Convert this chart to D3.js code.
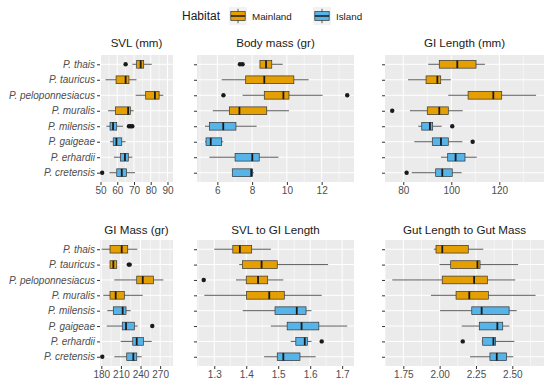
<!DOCTYPE html>
<html>
<head>
  <script src="https://cdn.jsdelivr.net/npm/d3@7/dist/d3.min.js"></script>
  <style>
    body { margin: 0; background: #fff; }
    text { font-family: "Liberation Sans", Arial, sans-serif; }
  </style>
</head>
<body>
<svg width="550" height="387"></svg>
<script>

const species = ['P. thais', 'P. tauricus', 'P. peloponnesiacus', 'P. muralis',
                 'P. milensis', 'P. gaigeae', 'P. erhardii', 'P. cretensis'];
const habitat = ['Mainland', 'Mainland', 'Mainland', 'Mainland',
                 'Island', 'Island', 'Island', 'Island'];

// [low whisker, q1, median, q3, high whisker] per species
const svl = [[69, 71.6, 74, 75.8, 80.6], [53, 59.3, 65, 67, 71.5], [71, 77, 82.5, 85, 87.5],
             [54.5, 59, 66.5, 67.8, 69.8], [53.5, 55.7, 57.5, 59.7, 63.5], [55.7, 57.6, 59.5, 62.7, 65],
             [58, 62, 64.6, 66.6, 69], [55.3, 59.7, 62.7, 65.6, 70.6]];
const svlOut = [[65], [], [], [], [67, 68, 69], [], [], [51]];

const bodyMass = [[8.45, 8.45, 8.8, 9.13, 9.76], [6.25, 7.63, 8.7, 10.4, 11.25], [7.45, 8.7, 9.8, 10.12, 12.05],
                  [5.74, 6.69, 7.27, 8.84, 10.12], [5.29, 5.54, 6.34, 7.07, 8.26], [5.29, 5.35, 5.62, 6.25, 6.34],
                  [5.54, 7.02, 8.01, 8.41, 9.51], [6.86, 6.86, 7.95, 8.03, 8.1]];
const bodyMassOut = [[7.3, 7.45], [], [6.35, 13.47], [], [], [], [], []];

const giLength = [[90.4, 95, 102.5, 110.3, 114], [82, 89.5, 94.2, 95.6, 99.8], [98.75, 107, 117.5, 121, 135.3],
                  [82.8, 90, 95, 98.75, 104.75], [86.25, 87.7, 91.1, 92.25, 96], [84.6, 92.1, 95.7, 98.75, 104.6],
                  [95.7, 98.5, 101.8, 105.7, 110.6], [83.5, 93.5, 96.25, 100.4, 104.3]];
const giLengthOut = [[], [], [], [75.4], [100.4], [108.9], [], [81.4]];

const giMass = [[180.6, 193.3, 211.2, 220.4, 235.1], [193.3, 193.3, 198.4, 203.6, 203.6], [199.9, 234.2, 243.4, 259.6, 274.9],
                [183, 193.3, 202, 215.2, 243.4], [189.2, 198.4, 212.7, 217.8, 225], [188.3, 212.1, 217.8, 230.5, 235.7],
                [209.7, 228.1, 234.2, 244.3, 257.1], [199.9, 218.9, 229, 234.2, 241.8]];
const giMassOut = [[], [222, 223.5], [], [], [], [258], [], [181.5]];

const svlToGi = [[1.30, 1.358, 1.38, 1.417, 1.477], [1.378, 1.388, 1.448, 1.497, 1.656], [1.368, 1.4, 1.437, 1.467, 1.516],
                 [1.269, 1.401, 1.472, 1.519, 1.636], [1.389, 1.49, 1.558, 1.587, 1.604], [1.477, 1.528, 1.573, 1.627, 1.716],
                 [1.539, 1.555, 1.583, 1.591, 1.604], [1.456, 1.497, 1.516, 1.568, 1.617]];
const svlToGiOut = [[], [], [1.267], [], [], [], [1.636], []];

const gutRatio = [[1.96, 1.975, 2.018, 2.197, 2.30], [2.0, 2.076, 2.26, 2.278, 2.54], [1.674, 2.018, 2.237, 2.328, 2.52],
                  [1.94, 2.113, 2.204, 2.335, 2.66], [2.003, 2.221, 2.289, 2.478, 2.53], [2.152, 2.273, 2.397, 2.434, 2.48],
                  [2.29, 2.296, 2.37, 2.385, 2.514], [2.209, 2.346, 2.393, 2.461, 2.507]];
const gutRatioOut = [[], [], [], [], [], [], [2.159], []];

const colors = {Mainland: '#E69F00', Island: '#56B4E9'};

let panels = [
  {title: 'SVL (mm)', data: svl, out: svlOut, domain: [49.7, 93.3], ticks: [50, 60, 70, 80, 90], fmt: d3.format('d'), col: 0, row: 0},
  {title: 'Body mass (gr)', data: bodyMass, out: bodyMassOut, domain: [4.83, 13.86], ticks: [6, 8, 10, 12], fmt: d3.format('d'), col: 1, row: 0},
  {title: 'GI Length (mm)', data: giLength, out: giLengthOut, domain: [72.4, 138.6], ticks: [80, 100, 120], fmt: d3.format('d'), col: 2, row: 0},
  {title: 'GI Mass (gr)', data: giMass, out: giMassOut, domain: [178, 289.7], ticks: [180, 210, 240, 270], fmt: d3.format('d'), col: 0, row: 1},
  {title: 'SVL to GI Length', data: svlToGi, out: svlToGiOut, domain: [1.246, 1.737], ticks: [1.3, 1.4, 1.5, 1.6, 1.7], fmt: d3.format('.1f'), col: 1, row: 1},
  {title: 'Gut Length to Gut Mass', data: gutRatio, out: gutRatioOut, domain: [1.624, 2.718], ticks: [1.75, 2.0, 2.25, 2.5], fmt: d3.format('.2f'), col: 2, row: 1}
];

const cols = [[100, 173], [197, 354], [385, 544]];
const rows = [[55, 182], [240, 366]];

let svg = d3.select('svg');

panels.forEach(p => {
  let [x0, x1] = cols[p.col];
  let [y0, y1] = rows[p.row];
  let x = d3.scaleLinear().domain(p.domain).range([x0, x1]);
  let y = d3.scalePoint().domain(species).range([y0, y1]).padding(0.6);
  let bh = y.step() * 0.5;

  let g = svg.append('g');
  g.append('rect').attr('x', x0).attr('y', y0).attr('width', x1 - x0).attr('height', y1 - y0)
    .attr('fill', '#EBEBEB');

  // minor grid
  let step = p.ticks[1] - p.ticks[0];
  let minor = [];
  for (let i = -1; i < p.ticks.length; i++) {
    let v = p.ticks[0] + step * (i + 0.5);
    if (v > p.domain[0] && v < p.domain[1]) minor.push(v);
  }
  g.selectAll('.minor').data(minor).enter().append('line')
    .attr('x1', d => x(d)).attr('x2', d => x(d)).attr('y1', y0).attr('y2', y1)
    .attr('stroke', '#fff').attr('stroke-width', 0.5);
  g.selectAll('.major').data(p.ticks).enter().append('line')
    .attr('x1', d => x(d)).attr('x2', d => x(d)).attr('y1', y0).attr('y2', y1)
    .attr('stroke', '#fff').attr('stroke-width', 1);
  g.selectAll('.hgrid').data(species).enter().append('line')
    .attr('x1', x0).attr('x2', x1).attr('y1', d => y(d)).attr('y2', d => y(d))
    .attr('stroke', '#fff').attr('stroke-width', 1);

  // boxes
  species.forEach((s, i) => {
    let [lo, q1, med, q3, hi] = p.data[i];
    let cy = y(s);
    g.append('line').attr('x1', x(lo)).attr('x2', x(q1)).attr('y1', cy).attr('y2', cy)
      .attr('stroke', '#333').attr('stroke-width', 0.8);
    g.append('line').attr('x1', x(q3)).attr('x2', x(hi)).attr('y1', cy).attr('y2', cy)
      .attr('stroke', '#333').attr('stroke-width', 0.8);
    g.append('rect').attr('x', x(q1)).attr('y', cy - bh / 2)
      .attr('width', Math.max(x(q3) - x(q1), 0.5)).attr('height', bh)
      .attr('fill', colors[habitat[i]]).attr('stroke', '#333').attr('stroke-width', 0.7);
    g.append('line').attr('x1', x(med)).attr('x2', x(med)).attr('y1', cy - bh / 2).attr('y2', cy + bh / 2)
      .attr('stroke', '#1a1a1a').attr('stroke-width', 1.8);
    p.out[i].forEach(v => {
      g.append('circle').attr('cx', x(v)).attr('cy', cy).attr('r', 2.2).attr('fill', '#1a1a1a');
    });
  });

  // x axis
  let xa = g.append('g').attr('transform', 'translate(0,' + y1 + ')')
    .call(d3.axisBottom(x).tickValues(p.ticks).tickFormat(p.fmt).tickSize(3).tickPadding(2));
  xa.select('.domain').remove();
  xa.selectAll('line').attr('stroke', '#333');
  xa.selectAll('text').attr('fill', '#4D4D4D').style('font-size', '10px');

  // y axis
  let ya = g.append('g').attr('transform', 'translate(' + x0 + ',0)')
    .call(d3.axisLeft(y).tickSize(3).tickPadding(2));
  ya.select('.domain').remove();
  ya.selectAll('line').attr('stroke', '#333');
  ya.selectAll('text').attr('fill', '#4D4D4D').style('font-size', '10px').style('font-style', 'italic')
    .style('display', p.col === 0 ? null : 'none');

  g.append('text').attr('x', (x0 + x1) / 2).attr('y', y0 - (p.row === 0 ? 8 : 6)).attr('text-anchor', 'middle')
    .attr('fill', '#1a1a1a').style('font-size', '11.6px').text(p.title);
});

// legend
let legend = svg.append('g');
legend.append('text').attr('x', 182).attr('y', 20).attr('fill', '#1a1a1a').style('font-size', '12px').text('Habitat');
let keys = [{k: 'Mainland', x: 229}, {k: 'Island', x: 313}];
keys.forEach(d => {
  let kg = legend.append('g').attr('transform', 'translate(' + d.x + ',7)');
  kg.append('rect').attr('width', 18).attr('height', 18).attr('fill', '#F2F2F2');
  kg.append('line').attr('x1', 9).attr('x2', 9).attr('y1', 1.8).attr('y2', 16.2).attr('stroke', '#333').attr('stroke-width', 0.8);
  kg.append('rect').attr('x', 1.8).attr('y', 4.5).attr('width', 14.4).attr('height', 9)
    .attr('fill', colors[d.k]).attr('stroke', '#333').attr('stroke-width', 0.7);
  kg.append('line').attr('x1', 1.8).attr('x2', 16.2).attr('y1', 9).attr('y2', 9).attr('stroke', '#1a1a1a').attr('stroke-width', 1.5);
  legend.append('text').attr('x', d.x + 23).attr('y', 19.5).attr('fill', '#1a1a1a').style('font-size', '9.8px').text(d.k);
});

</script>
</body>
</html>
